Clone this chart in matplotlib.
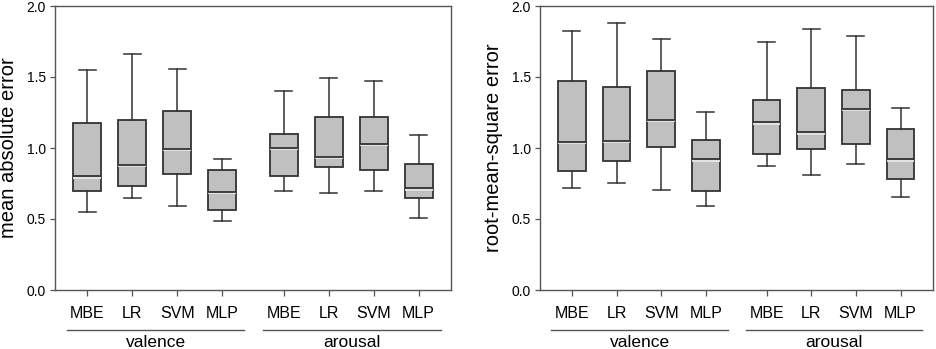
import numpy as np
import matplotlib.pyplot as plt
import matplotlib.patheffects as pe

plt.rcParams['font.family'] = ['Liberation Sans', 'DejaVu Sans']

models = ['MBE', 'LR', 'SVM', 'MLP']
groups = ['valence', 'arousal']

# (whisker low, q1, median, q3, whisker high) per model, valence then arousal
mae_valence = [
    [0.55, 0.70, 0.80, 1.175, 1.55],
    [0.65, 0.73, 0.88, 1.20, 1.66],
    [0.59, 0.815, 0.995, 1.26, 1.555],
    [0.485, 0.565, 0.69, 0.845, 0.92],
]
mae_arousal = [
    [0.70, 0.80, 1.00, 1.10, 1.40],
    [0.685, 0.865, 0.94, 1.215, 1.495],
    [0.70, 0.845, 1.03, 1.215, 1.475],
    [0.51, 0.65, 0.715, 0.89, 1.09],
]
rmse_valence = [
    [0.715, 0.835, 1.045, 1.475, 1.825],
    [0.755, 0.905, 1.05, 1.43, 1.88],
    [0.705, 1.005, 1.20, 1.54, 1.765],
    [0.595, 0.70, 0.92, 1.055, 1.255],
]
rmse_arousal = [
    [0.87, 0.96, 1.18, 1.34, 1.75],
    [0.81, 0.99, 1.11, 1.42, 1.835],
    [0.89, 1.03, 1.275, 1.41, 1.79],
    [0.655, 0.785, 0.92, 1.135, 1.28],
]

valence_pos = [1, 2, 3, 4]
arousal_pos = [5.36, 6.36, 7.36, 8.36]


def make_stats(rows):
    out = []
    for lo, q1, med, q3, hi in rows:
        out.append(dict(whislo=lo, q1=q1, med=med, q3=q3, whishi=hi, fliers=[]))
    return out


def draw_panel(ax, val_rows, aro_rows, ylabel):
    stats = make_stats(val_rows) + make_stats(aro_rows)
    pos = valence_pos + arousal_pos
    edge = '#333333'
    ax.bxp(stats, positions=pos, widths=0.62, patch_artist=True,
           showfliers=False,
           boxprops=dict(facecolor='#c0c0c0', edgecolor=edge, linewidth=1.3),
           medianprops=dict(color=edge, linewidth=1.3,
                            path_effects=[pe.SimpleLineShadow(offset=(0, -0.9), shadow_color='#e6e6e6', alpha=1),
                                          pe.Normal()]),
           whiskerprops=dict(color=edge, linewidth=1.1),
           capprops=dict(color=edge, linewidth=1.1),
           capwidths=0.38)
    ax.set_xlim(0.28, 9.08)
    ax.set_ylim(0, 2.0)
    ax.set_yticks([0, 0.5, 1.0, 1.5, 2.0])
    ax.set_yticklabels(['0.0', '0.5', '1.0', '1.5', '2.0'])
    ax.set_xticks(pos)
    ax.set_xticklabels(models + models)
    ax.tick_params(axis='x', labelsize=11.5, length=4, width=0.9, color='#555555', pad=7.5)
    ax.tick_params(axis='y', labelsize=10, length=3.5, width=0.9, color='#555555', pad=3)
    for s in ax.spines.values():
        s.set_color('#555555')
        s.set_linewidth(1.0)
    ax.set_ylabel(ylabel, fontsize=14.5, labelpad=6)

    trans = ax.get_xaxis_transform()
    for name, p in zip(groups, [valence_pos, arousal_pos]):
        x0, x1 = p[0] - 0.46, p[-1] + 0.49
        ax.plot([x0, x1], [-0.141, -0.141], color='#555555', linewidth=1.0,
                transform=trans, clip_on=False)
        ax.text((x0 + x1) / 2, -0.185, name, transform=trans, ha='center',
                va='center', fontsize=12.5)


fig = plt.figure(figsize=(9.36, 3.49), dpi=100)
ax1 = fig.add_axes([55 / 936, 1 - 290 / 349, 396 / 936, 284 / 349])
ax2 = fig.add_axes([539.7 / 936, 1 - 290 / 349, 393 / 936, 284 / 349])

draw_panel(ax1, mae_valence, mae_arousal, 'mean absolute error')
draw_panel(ax2, rmse_valence, rmse_arousal, 'root-mean-square error')

fig.savefig('out.png', dpi=100)
